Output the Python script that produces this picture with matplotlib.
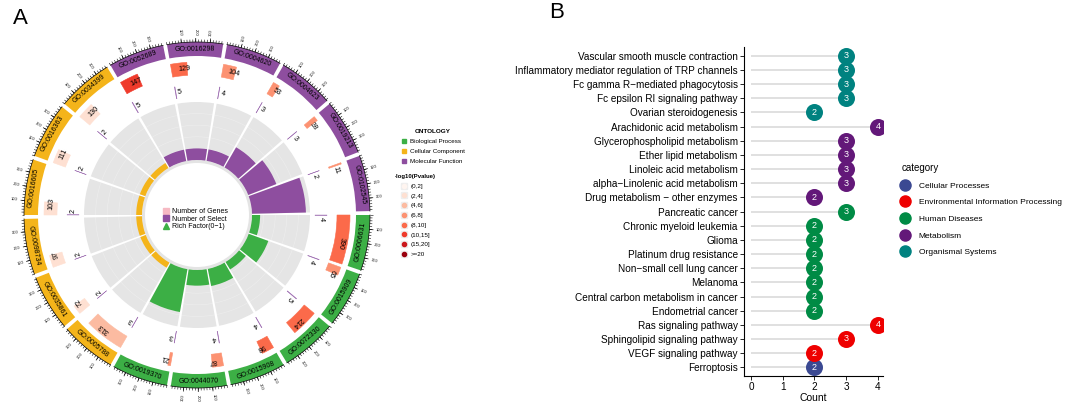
import matplotlib
matplotlib.use('Agg')
import matplotlib.pyplot as plt
import numpy as np
from matplotlib.lines import Line2D

plt.rcParams['font.family'] = ['Liberation Sans', 'DejaVu Sans']

# ---------------- panel A: GO circle (sectors clockwise from 3 o'clock) ----------------
go_ids = ['GO:0006631', 'GO:0015909', 'GO:0072330', 'GO:0015908', 'GO:0044070', 'GO:0019370',
          'GO:0005788', 'GO:0035861', 'GO:0098734', 'GO:0016605', 'GO:0016363', 'GO:0034399',
          'GO:0052689', 'GO:0016298', 'GO:0004620', 'GO:0004623', 'GO:0019213', 'GO:0102545']
go_ontology = ['BP'] * 6 + ['CC'] * 6 + ['MF'] * 6
go_genes = [390, 65, 214, 98, 87, 21, 313, 72, 97, 103, 111, 130, 147, 129, 104, 53, 38, 11]
go_select = [4, 4, 5, 4, 4, 3, 3, 2, 2, 2, 2, 2, 5, 5, 4, 3, 3, 2]
go_logp = [9, 7, 9, 9, 7, 7, 5, 3, 3, 3, 3, 3, 11, 9, 7, 8, 7, 7]
go_rich = [0.14, 0.36, 0.15, 0.3, 0.27, 0.75, 0.1, 0.1, 0.1, 0.1, 0.1, 0.1,
           0.2, 0.2, 0.2, 0.4, 0.52, 0.93]

ont_names = ['Biological Process', 'Cellular Component', 'Molecular Function']
ont_colors = {'BP': '#3CAF45', 'CC': '#F4B41A', 'MF': '#8E4E9F'}
p_bins = [0, 2, 4, 6, 8, 10, 15, 20, np.inf]
p_labels = ['(0,2]', '(2,4]', '(4,6]', '(6,8]', '(8,10]', '(10,15]', '(15,20]', '>=20']
p_colors = ['#FFF5F0', '#FEE0D2', '#FCBBA1', '#FC9272', '#FB6A4A', '#EF3B2C', '#CB181D', '#99000D']

# ---------------- panel B: KEGG lollipop ----------------
path_names = ['Vascular smooth muscle contraction', 'Inflammatory mediator regulation of TRP channels',
              'Fc gamma R\u2212mediated phagocytosis', 'Fc epsilon RI signaling pathway',
              'Ovarian steroidogenesis', 'Arachidonic acid metabolism', 'Glycerophospholipid metabolism',
              'Ether lipid metabolism', 'Linoleic acid metabolism', 'alpha\u2212Linolenic acid metabolism',
              'Drug metabolism \u2212 other enzymes', 'Pancreatic cancer', 'Chronic myeloid leukemia',
              'Glioma', 'Platinum drug resistance', 'Non\u2212small cell lung cancer', 'Melanoma',
              'Central carbon metabolism in cancer', 'Endometrial cancer', 'Ras signaling pathway',
              'Sphingolipid signaling pathway', 'VEGF signaling pathway', 'Ferroptosis']
path_count = [3, 3, 3, 3, 2, 4, 3, 3, 3, 3, 2, 3, 2, 2, 2, 2, 2, 2, 2, 4, 3, 2, 2]
path_cat = ['Organismal Systems'] * 5 + ['Metabolism'] * 6 + ['Human Diseases'] * 8 + \
           ['Environmental Information Processing'] * 3 + ['Cellular Processes']
cat_names = ['Cellular Processes', 'Environmental Information Processing', 'Human Diseases',
             'Metabolism', 'Organismal Systems']
cat_colors = ['#3B4992', '#EE0000', '#008B45', '#631879', '#008280']

W, H = 1065, 405
fig = plt.figure(figsize=(W / 100, H / 100), dpi=100)

# circle geometry in pixels
CX, CY, RAX = 197, 215, 200
axA = fig.add_axes([(CX - RAX) / W, (H - CY - RAX) / H, 2 * RAX / W, 2 * RAX / H], projection='polar')
axA.set_ylim(0, RAX)
axA.set_axis_off()

n = len(go_ids)
step = 360 / n
span = step - 1.3
xmax = 390


def ang(k, x):
    return -k * step - x / xmax * span


def rad(k, x):
    return np.deg2rad(ang(k, x))


def nice_rot(t):
    t = t % 360
    return t - 90 if t <= 180 else t + 90


def sector_bar(k, x0, x1, bottom, height, **kw):
    axA.bar(rad(k, (x0 + x1) / 2), height, width=np.deg2rad((x1 - x0) / xmax * span),
            bottom=bottom, align='center', **kw)


# thin ring around the centre
axA.bar(0, 3, width=2 * np.pi, bottom=52, color='#E4E4E4', linewidth=0)

for k in range(n):
    col = ont_colors[go_ontology[k]]
    # outer label ring
    sector_bar(k, 0, xmax, 159, 14, color=col, linewidth=0)
    t = ang(k, xmax / 2)
    axA.text(rad(k, xmax / 2), 166, go_ids[k], rotation=nice_rot(t), rotation_mode='anchor',
             ha='center', va='center', fontsize=5)
    # axis with ticks
    th = np.linspace(rad(k, 0), rad(k, xmax), 40)
    axA.plot(th, np.full_like(th, 173), color='black', lw=0.5)
    minor = np.arange(0, xmax, 20)
    axA.vlines(rad(k, minor), 173, 175.5, color='black', lw=0.4)
    for v in [100, 200, 300]:
        axA.vlines(rad(k, v), 173, 177, color='black', lw=0.5)
        tv = ang(k, v) % 360
        rot = tv if (tv < 90 or tv > 270) else tv + 180
        axA.text(rad(k, v), 183, str(v), rotation=rot, rotation_mode='anchor',
                 ha='center', va='center', fontsize=3)
    # number of genes
    pc = p_colors[np.searchsorted(p_bins, go_logp[k]) - 1]
    sector_bar(k, 0, go_genes[k], 140, 13, color=pc, edgecolor=pc, linewidth=0.4)
    xt = go_genes[k] / 2 + 40
    axA.text(rad(k, xt), 146.5, str(go_genes[k]), rotation=ang(k, xt) - 90, rotation_mode='anchor',
             ha='center', va='center', fontsize=5.2)
    # number of select
    sector_bar(k, 0, go_select[k], 118, 12, color='#9C6BB0', edgecolor='#9C6BB0', linewidth=0.3)
    xs = go_select[k] / 2 + 40
    axA.text(rad(k, xs), 124, str(go_select[k]), rotation=ang(k, xs) - 90, rotation_mode='anchor',
             ha='center', va='center', fontsize=5.2)
    # rich factor track
    sector_bar(k, 0, xmax, 55, 58, color='#E5E5E5', linewidth=0, zorder=0.8)
    for g in np.linspace(0.2, 0.8, 4):
        axA.plot(th, np.full_like(th, 55 + 58 * g), color='white', lw=0.4, alpha=0.35, zorder=0.9)
    sector_bar(k, 0, xmax, 55, 58 * go_rich[k], color=col, linewidth=0, zorder=1.2)

# legends of panel A
h_ont = [Line2D([], [], marker='s', ls='', color=ont_colors[o], markersize=3.2) for o in ['BP', 'CC', 'MF']]
leg1 = fig.legend(h_ont, ont_names, title='ONTOLOGY', loc='upper left', bbox_to_anchor=(398 / W, 1 - 126 / H),
                  frameon=False, fontsize=4.5, title_fontsize=4.6, handlelength=0.8, handletextpad=0.6,
                  labelspacing=0.75, borderpad=0)
leg1.get_title().set_fontweight('bold')

h_p = [(Line2D([], [], marker='s', ls='', color='#EEEEEE', markersize=5),
        Line2D([], [], marker='o', ls='', color=c, markersize=3)) for c in p_colors]
leg2 = fig.legend(h_p, p_labels, title='-log10(Pvalue)', loc='upper left', bbox_to_anchor=(392 / W, 1 - 171 / H),
                  frameon=False, fontsize=4.5, title_fontsize=4.3, handlelength=0.8, handletextpad=0.6,
                  labelspacing=0.7, borderpad=0)
leg2.get_title().set_fontweight('bold')

h_in = [Line2D([], [], marker='s', ls='', color='#F6B9C3', markersize=4),
        Line2D([], [], marker='s', ls='', color='#8E4E9F', markersize=4),
        Line2D([], [], marker='^', ls='', color='#3CAF45', markersize=4)]
fig.legend(h_in, ['Number of Genes', 'Number of Select', 'Rich Factor(0\u22121)'], loc='upper left',
           bbox_to_anchor=(160 / W, 1 - 205 / H), frameon=False, fontsize=5, handlelength=0.8,
           handletextpad=0.5, labelspacing=0.05, borderpad=0)

# ---------------- panel B ----------------
axB = fig.add_axes([744 / W, (H - 375.8) / H, (883 - 744) / W, 328.5 / H])
y = np.arange(len(path_names))[::-1]
axB.hlines(y, 0, path_count, color='#DDDDDD', lw=1.3, zorder=1)
for name, c in zip(cat_names, cat_colors):
    idx = [i for i, p in enumerate(path_cat) if p == name]
    axB.scatter([path_count[i] for i in idx], y[idx], s=150, color=c, zorder=3, linewidths=0)
for i in range(len(path_names)):
    axB.text(path_count[i], y[i], str(path_count[i]), color='white', ha='center', va='center',
             fontsize=6.5, zorder=4)
axB.set_yticks(y)
axB.set_yticklabels(path_names, fontsize=7.2)
axB.set_xticks(range(5))
axB.tick_params(axis='x', labelsize=7.2, length=3, width=0.6, pad=1.5)
axB.tick_params(axis='y', length=3, width=0.6, pad=1.5)
axB.set_xlim(-0.22, 4.16)
axB.set_ylim(-0.6, 22.6)
axB.set_xlabel('Count', fontsize=7.5, labelpad=1)
for s in ['top', 'right']:
    axB.spines[s].set_visible(False)
for s in ['left', 'bottom']:
    axB.spines[s].set_linewidth(0.8)

h_cat = [Line2D([], [], marker='o', ls='', color=c, markersize=8) for c in cat_colors]
fig.legend(h_cat, cat_names, title='category', loc='upper left', bbox_to_anchor=(897 / W, 1 - 159 / H),
           frameon=False, fontsize=6, title_fontsize=7, alignment='left', handlelength=1.0,
           handletextpad=1.1, labelspacing=1.05, borderpad=0)

fig.text(20 / W, 1 - 18 / H, 'A', fontsize=16, ha='center', va='center')
fig.text(557 / W, 1 - 13 / H, 'B', fontsize=16, ha='center', va='center')

fig.savefig('out.png', dpi=100)
